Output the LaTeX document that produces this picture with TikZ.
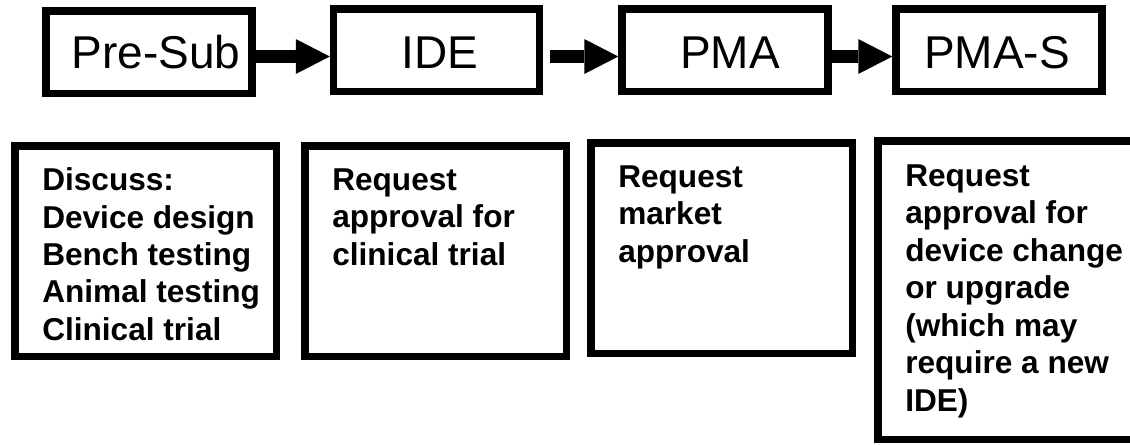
\documentclass[tikz,border=0pt]{standalone}
\usepackage{fontspec}
\setmainfont{Liberation Sans}
\usetikzlibrary{arrows.meta}
% one drawing unit = 0.75pt
\def\pxu{0.75pt}
\tikzset{
  stage/.style={draw=black, line width=7.5*\pxu, inner sep=0pt,
    minimum width=206*\pxu, minimum height=82.5*\pxu},
  stagetext/.style={anchor=base, inner sep=0pt,
    font=\fontsize{34.5pt}{40pt}\selectfont},
  note/.style={draw=black, line width=7.5*\pxu, inner sep=0pt,
    minimum width=261.5*\pxu, minimum height=210.5*\pxu},
  notetext/.style={anchor=north west, inner sep=0pt, align=left,
    font=\fontsize{23.7pt}{28.1pt}\selectfont\bfseries},
  flow/.style={line width=13*\pxu,
    -{Triangle[length=25.5pt, width=26.25pt, line width=0pt]}}
}
\begin{document}
\begin{tikzpicture}[x=0.75pt,y=-0.75pt]
\useasboundingbox (0,0) rectangle (1130,444);
\clip (0,0) rectangle (1130,444);

% stages along the top
\node[stage] (presub) at (149,52) {};
\node[stage] (ide) at (436.5,50) {};
\node[stage] (pma) at (725,50) {};
\node[stage] (pmas) at (999,50) {};

\node[stagetext] (presubt) at (156,68) {Pre-Sub};
\node[stagetext] (idet) at (440,68) {IDE};
\node[stagetext] (pmat) at (730,68) {PMA};
\node[stagetext] (pmast) at (997,68) {PMA-S};

% arrows between stages
\coordinate (ay) at (0,56.5);
\draw[flow] (presub.east |- ay) -- (ide.west |- ay);
\draw[flow, shorten <=5.25pt] (ide.east |- ay) -- (pma.west |- ay);
\draw[flow] (pma.east |- ay) -- (pmas.west |- ay);

% description boxes
\node[note] (b1) at (145.5,251) {};
\node[note] (b2) at (435.5,251) {};
\node[note] (b3) at (721.5,248) {};
\node[note, minimum height=298.5*\pxu] (b4) at (1008.5,290) {};

\node[notetext] (b1t) at (42,167.4) {Discuss:\\Device design\\Bench testing\\Animal testing\\Clinical trial};
\node[notetext] (b2t) at (332,168.4) {Request\\approval for\\clinical trial};
\node[notetext] (b3t) at (618,165.4) {Request\\market\\approval};
\node[notetext] (b4t) at (905,164.4) {Request\\approval for\\device change\\or upgrade\\(which may\\require a new\\IDE)};
\end{tikzpicture}
\end{document}
